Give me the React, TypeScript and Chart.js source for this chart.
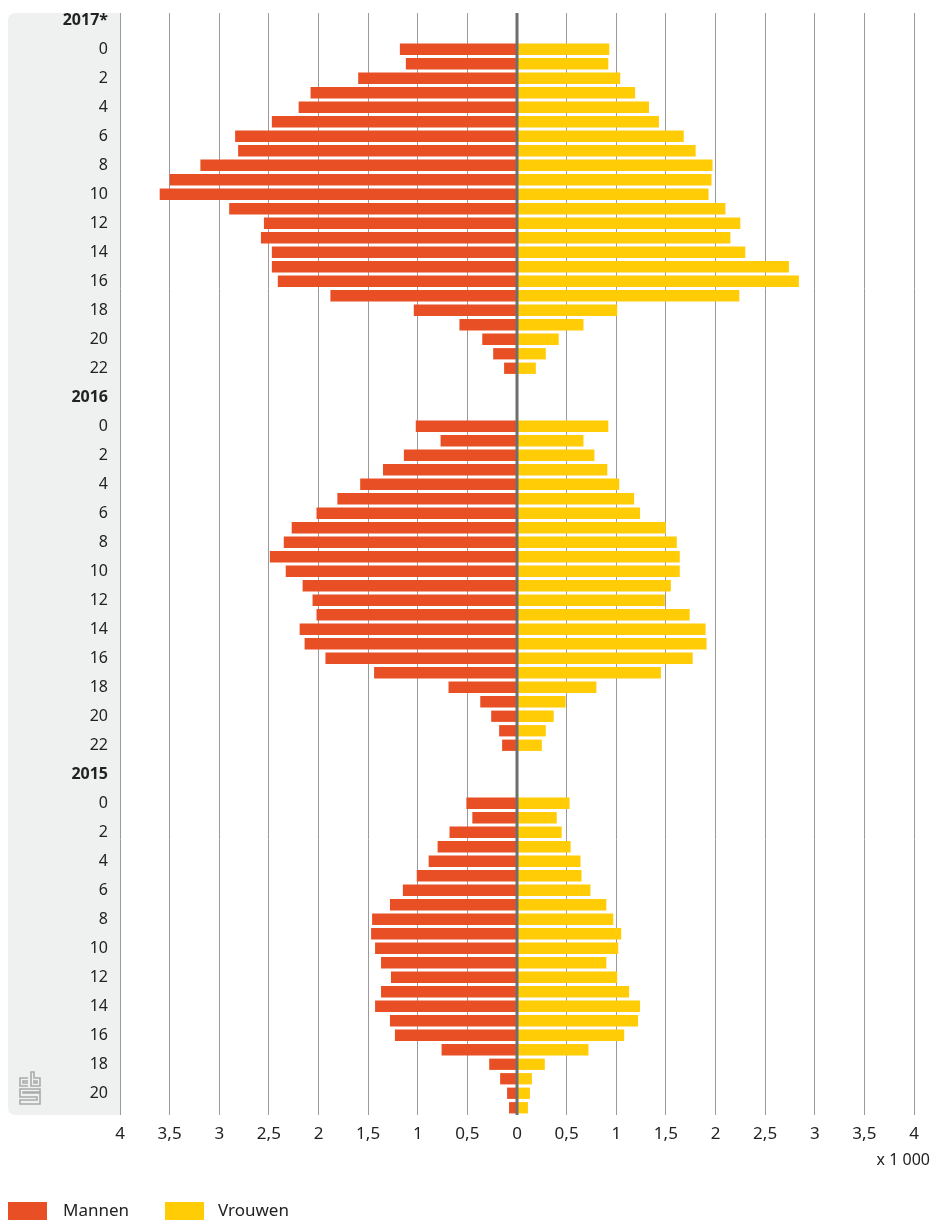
import React, { useEffect, useRef } from "react";
import { Chart, registerables } from "chart.js";

Chart.register(...registerables);

// ---- data (x 1 000) ----
const years = ["2017*", "2016", "2015"];
const ages2017 = ["0", "1", "2", "3", "4", "5", "6", "7", "8", "9", "10", "11", "12", "13", "14", "15", "16", "17", "18", "19", "20", "21", "22"];
const ages2016 = ["0", "1", "2", "3", "4", "5", "6", "7", "8", "9", "10", "11", "12", "13", "14", "15", "16", "17", "18", "19", "20", "21", "22"];
const ages2015 = ["0", "1", "2", "3", "4", "5", "6", "7", "8", "9", "10", "11", "12", "13", "14", "15", "16", "17", "18", "19", "20", "21"];

const men2017 = [1.18, 1.12, 1.6, 2.08, 2.2, 2.47, 2.84, 2.81, 3.19, 3.5, 3.6, 2.9, 2.55, 2.58, 2.47, 2.47, 2.41, 1.88, 1.04, 0.58, 0.35, 0.24, 0.13];
const women2017 = [0.93, 0.92, 1.04, 1.19, 1.33, 1.43, 1.68, 1.8, 1.97, 1.96, 1.93, 2.1, 2.25, 2.15, 2.3, 2.74, 2.84, 2.24, 1.01, 0.67, 0.42, 0.29, 0.19];
const men2016 = [1.02, 0.77, 1.14, 1.35, 1.58, 1.81, 2.02, 2.27, 2.35, 2.49, 2.33, 2.16, 2.06, 2.02, 2.19, 2.14, 1.93, 1.44, 0.69, 0.37, 0.26, 0.18, 0.15];
const women2016 = [0.92, 0.67, 0.78, 0.91, 1.03, 1.18, 1.24, 1.5, 1.61, 1.64, 1.64, 1.55, 1.49, 1.74, 1.9, 1.91, 1.77, 1.45, 0.8, 0.49, 0.37, 0.29, 0.25];
const men2015 = [0.51, 0.45, 0.68, 0.8, 0.89, 1.01, 1.15, 1.28, 1.46, 1.47, 1.43, 1.37, 1.27, 1.37, 1.43, 1.28, 1.23, 0.76, 0.28, 0.17, 0.1, 0.08];
const women2015 = [0.53, 0.4, 0.45, 0.54, 0.64, 0.65, 0.74, 0.9, 0.97, 1.05, 1.02, 0.9, 1.01, 1.13, 1.24, 1.22, 1.08, 0.72, 0.28, 0.15, 0.13, 0.11];

const seriesNames = ["Mannen", "Vrouwen"];
const xTickValues = [-4, -3.5, -3, -2.5, -2, -1.5, -1, -0.5, 0, 0.5, 1, 1.5, 2, 2.5, 3, 3.5, 4];
const unitLabel = "x 1 000";

const ORANGE = "#e84f24";
const YELLOW = "#ffcc05";
const FONT = "'Noto Sans', 'Open Sans', sans-serif";

// ---- build category table ----
const blocks = [
  { year: years[0], ages: ages2017, men: men2017, women: women2017, trailing: true },
  { year: years[1], ages: ages2016, men: men2016, women: women2016, trailing: true },
  { year: years[2], ages: ages2015, men: men2015, women: women2015, trailing: false },
];

const labels: string[] = [];
const kinds: string[] = [];
const menData: (number | null)[] = [];
const womenData: (number | null)[] = [];
blocks.forEach((b) => {
  labels.push(b.year); kinds.push("header"); menData.push(null); womenData.push(null);
  labels.push(""); kinds.push("blank"); menData.push(null); womenData.push(null);
  b.ages.forEach((a, i) => {
    labels.push(a); kinds.push("age"); menData.push(-b.men[i]); womenData.push(b.women[i]);
  });
  if (b.trailing) {
    labels.push(""); kinds.push("blank"); menData.push(null); womenData.push(null);
  }
});

const fmt = (v: number) => String(Math.abs(v)).replace(".", ",");

function drawLogo(ctx: CanvasRenderingContext2D, x: number, y: number) {
  // simplified outline of the logo in the label panel
  ctx.save();
  ctx.strokeStyle = "#a9abab";
  ctx.lineWidth = 1.6;
  ctx.beginPath();
  // "c"
  ctx.moveTo(x + 9, y + 6); ctx.lineTo(x + 1, y + 6); ctx.lineTo(x + 1, y + 14); ctx.lineTo(x + 9, y + 14);
  ctx.moveTo(x + 9, y + 9); ctx.lineTo(x + 4, y + 9); ctx.lineTo(x + 4, y + 11); ctx.lineTo(x + 9, y + 11);
  // "b"
  ctx.moveTo(x + 12, y + 0); ctx.lineTo(x + 12, y + 14); ctx.lineTo(x + 21, y + 14); ctx.lineTo(x + 21, y + 6); ctx.lineTo(x + 15, y + 6); ctx.lineTo(x + 15, y + 0); ctx.closePath();
  ctx.moveTo(x + 15, y + 9); ctx.lineTo(x + 18, y + 9); ctx.lineTo(x + 18, y + 11); ctx.lineTo(x + 15, y + 11); ctx.closePath();
  // "s"
  ctx.moveTo(x + 21, y + 17); ctx.lineTo(x + 1, y + 17); ctx.lineTo(x + 1, y + 25); ctx.lineTo(x + 18, y + 25); ctx.lineTo(x + 18, y + 28); ctx.lineTo(x + 1, y + 28); ctx.lineTo(x + 1, y + 32); ctx.lineTo(x + 21, y + 32); ctx.lineTo(x + 21, y + 21); ctx.lineTo(x + 4, y + 21); ctx.lineTo(x + 4, y + 20); ctx.lineTo(x + 21, y + 20); ctx.closePath();
  ctx.stroke();
  ctx.restore();
}

export default function App() {
  const ref = useRef<HTMLCanvasElement | null>(null);

  useEffect(() => {
    if (!ref.current) return;

    const decor = {
      id: "decor",
      beforeDraw(chart: any) {
        const { ctx, chartArea } = chart;
        ctx.save();
        ctx.fillStyle = "#eff0f0";
        const x0 = 8, x1 = chartArea.left, y0 = chartArea.top, y1 = chartArea.bottom, r = 8;
        ctx.beginPath();
        ctx.moveTo(x1, y0);
        ctx.lineTo(x0 + r, y0);
        ctx.quadraticCurveTo(x0, y0, x0, y0 + r);
        ctx.lineTo(x0, y1 - r);
        ctx.quadraticCurveTo(x0, y1, x0 + r, y1);
        ctx.lineTo(x1, y1);
        ctx.closePath();
        ctx.fill();
        ctx.restore();
        drawLogo(ctx, 19, chartArea.bottom - 43);
      },
      afterDatasetsDraw(chart: any) {
        const { ctx, chartArea, scales } = chart;
        const x = scales.x.getPixelForValue(0);
        ctx.save();
        ctx.strokeStyle = "#6e6e6e";
        ctx.lineWidth = 3;
        ctx.beginPath();
        ctx.moveTo(x, chartArea.top);
        ctx.lineTo(x, chartArea.bottom);
        ctx.stroke();
        ctx.restore();
      },
      afterDraw(chart: any) {
        const { ctx } = chart;
        ctx.save();
        ctx.fillStyle = "#222";
        ctx.font = `16px ${FONT}`;
        ctx.textAlign = "right";
        ctx.textBaseline = "middle";
        ctx.fillText(unitLabel, 930, 1160);
        // legend
        ctx.textAlign = "left";
        ctx.font = `17px ${FONT}`;
        ctx.fillStyle = ORANGE;
        ctx.fillRect(8, 1202, 39, 18);
        ctx.fillStyle = YELLOW;
        ctx.fillRect(165, 1202, 39, 18);
        ctx.fillStyle = "#222";
        ctx.fillText(seriesNames[0], 63, 1211);
        ctx.fillText(seriesNames[1], 218, 1211);
        ctx.restore();
      },
    };

    const chart = new Chart(ref.current, {
      type: "bar",
      data: {
        labels,
        datasets: [
          { label: seriesNames[0], data: menData, backgroundColor: ORANGE, barPercentage: 0.78, categoryPercentage: 1 },
          { label: seriesNames[1], data: womenData, backgroundColor: YELLOW, barPercentage: 0.78, categoryPercentage: 1 },
        ],
      },
      options: {
        indexAxis: "y",
        animation: false,
        responsive: false,
        maintainAspectRatio: false,
        layout: { padding: { left: 8, right: 19, top: 13, bottom: 0 } },
        plugins: { legend: { display: false }, tooltip: { enabled: false } },
        scales: {
          x: {
            type: "linear",
            min: -4,
            max: 4,
            stacked: true,
            afterFit: (s: any) => { s.height = 105; s.paddingLeft = 0; s.paddingRight = 0; },
            afterBuildTicks: (s: any) => { s.ticks = xTickValues.map((v) => ({ value: v })); },
            border: { display: false },
            grid: { color: "#9a9a9a", lineWidth: 1, drawTicks: false },
            ticks: {
              padding: 9,
              color: "#222",
              font: { family: FONT, size: 17 },
              callback: (v: any) => fmt(Number(v)),
            },
          },
          y: {
            type: "category",
            stacked: true,
            afterFit: (s: any) => { s.width = 112; s.paddingTop = 0; s.paddingBottom = 0; },
            border: { display: false },
            grid: { display: false, drawTicks: false },
            ticks: {
              autoSkip: false,
              padding: 12,
              color: "#222",
              font: (c: any) => ({ family: FONT, size: 16, weight: kinds[c.index] === "header" ? "bold" : "normal" }),
              callback: (_v: any, i: number) => {
                if (kinds[i] === "header") return labels[i];
                if (kinds[i] === "age" && Number(labels[i]) % 2 === 0) return labels[i];
                return "";
              },
            },
          },
        },
      },
      plugins: [decor],
    } as any);

    return () => chart.destroy();
  }, []);

  return (
    <div style={{ position: "absolute", left: 0, top: 0, width: 933, height: 1220 }}>
      <canvas ref={ref} width={933} height={1220} style={{ display: "block", width: 933, height: 1220 }} />
    </div>
  );
}
